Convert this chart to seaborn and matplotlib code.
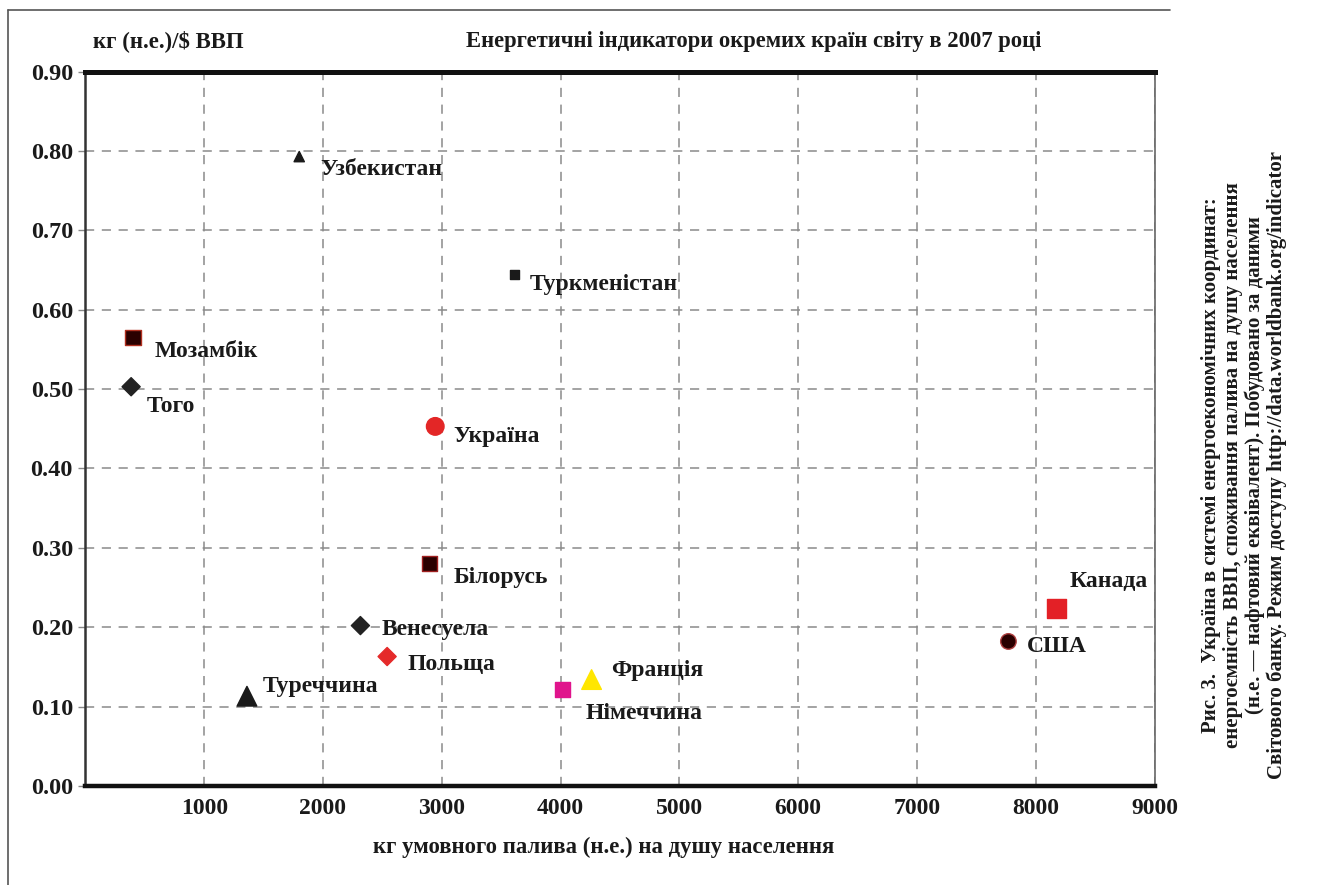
import pandas as pd
import seaborn as sns
import matplotlib.pyplot as plt
from matplotlib.lines import Line2D

# дані
countries = ['Узбекистан', 'Туркменістан', 'Мозамбік', 'Того', 'Україна', 'Білорусь',
             'Венесуела', 'Польща', 'Туреччина', 'Німеччина', 'Франція', 'Канада', 'США']
energy_per_capita = [1800, 3615, 400, 385, 2945, 2895, 2315, 2540, 1360, 4017, 4261, 8173, 7770]
energy_intensity = [0.793, 0.645, 0.565, 0.503, 0.453, 0.280, 0.202, 0.163, 0.113, 0.121, 0.134, 0.224, 0.182]
xticks = [1000, 2000, 3000, 4000, 5000, 6000, 7000, 8000, 9000]
yticks = [0.0, 0.1, 0.2, 0.3, 0.4, 0.5, 0.6, 0.7, 0.8, 0.9]

colors = {'Узбекистан': '#1a1a1a', 'Туркменістан': '#1a1a1a', 'Мозамбік': '#2a0000',
          'Того': '#222222', 'Україна': '#e32626', 'Білорусь': '#2a0000',
          'Венесуела': '#222222', 'Польща': '#e52a2a', 'Туреччина': '#1a1a1a',
          'Німеччина': '#e0148c', 'Франція': '#ffe600', 'Канада': '#e32026', 'США': '#2a0000'}
markers = {'Узбекистан': '^', 'Туркменістан': 's', 'Мозамбік': 's', 'Того': 'D',
           'Україна': 'o', 'Білорусь': 's', 'Венесуела': 'D', 'Польща': 'D',
           'Туреччина': '^', 'Німеччина': 's', 'Франція': '^', 'Канада': 's', 'США': 'o'}
sizes = {'Узбекистан': 55, 'Туркменістан': 42, 'Мозамбік': 120, 'Того': 85,
         'Україна': 160, 'Білорусь': 115, 'Венесуела': 85, 'Польща': 85,
         'Туреччина': 200, 'Німеччина': 115, 'Франція': 200, 'Канада': 190, 'США': 125}
edges = ['#1a1a1a', '#1a1a1a', '#b03020', '#222222', '#e32626', '#a02020',
         '#222222', '#e52a2a', '#1a1a1a', '#e0148c', '#ffe600', '#e32026', '#b04040']
# зміщення підписів (пікселі)
offsets = [(21, -13), (15, -10), (22, -14), (16, -20), (18, -10), (24, -14),
           (21, -4), (20, -8), (16, 10), (23, -24), (20, 9), (13, 27), (18, -5)]

df = pd.DataFrame({'country': countries, 'x': energy_per_capita, 'y': energy_intensity})

sns.set_theme(style='white')
plt.rcParams['font.family'] = ['Liberation Serif', 'DejaVu Serif']
plt.rcParams['font.weight'] = 'bold'

fig = plt.figure(figsize=(13.24, 8.85), dpi=100)
ax = fig.add_axes([0.0645, 0.112, 0.8075, 0.807])

sns.scatterplot(data=df, x='x', y='y', hue='country', style='country', size='country',
                palette=colors, markers=markers, sizes=sizes, edgecolor=edges,
                linewidth=1, legend=False, ax=ax, zorder=3)

for name, x, y, (dx, dy) in zip(countries, energy_per_capita, energy_intensity, offsets):
    ax.annotate(name, (x, y), xytext=(dx * 0.72, dy * 0.72), textcoords='offset points',
                ha='left', va='center', fontsize=17, fontweight='bold', color='#1a1a1a')

ax.set_xlim(0, 9000)
ax.set_ylim(0, 0.9)
ax.set_xticks(xticks)
ax.set_yticks(yticks)
ax.set_yticklabels([f'{v:.2f}' for v in yticks])
ax.tick_params(axis='x', length=0, pad=9, labelsize=17, labelcolor='#1a1a1a')
ax.tick_params(axis='y', length=5, width=1, color='#888888', pad=4, labelsize=17.5,
               labelcolor='#1a1a1a', left=True)
for lbl in ax.get_xticklabels() + ax.get_yticklabels():
    lbl.set_fontweight('bold')
ax.set_xlabel('')
ax.set_ylabel('')

ax.grid(True, color='#8a8a8a', linestyle=(0, (6, 5)), linewidth=1.1)
ax.set_axisbelow(True)

ax.spines['top'].set_linewidth(3.6)
ax.spines['top'].set_color('#111111')
ax.spines['bottom'].set_linewidth(3.2)
ax.spines['bottom'].set_color('#111111')
ax.spines['left'].set_linewidth(1.8)
ax.spines['left'].set_color('#333333')
ax.spines['right'].set_linewidth(1.2)
ax.spines['right'].set_color('#666666')

fig.text(93 / 1324, 1 - 41 / 885, 'кг (н.е.)/$ ВВП', ha='left', va='center',
         fontsize=16.5, fontweight='bold', color='#1a1a1a')
fig.text(466 / 1324, 1 - 41 / 885, 'Енергетичні індикатори окремих країн світу в 2007 році',
         ha='left', va='center', fontsize=16.3, fontweight='bold', color='#1a1a1a')
fig.text(604 / 1324, 1 - 847 / 885, 'кг умовного палива (н.е.) на душу населення',
         ha='center', va='center', fontsize=16.4, fontweight='bold', color='#1a1a1a')

caption = ('Рис. 3.  Україна в системі енергоекономічних координат:\n'
           'енергоємність ВВП, споживання палива на душу населення\n'
           '(н.е. — нафтовий еквівалент). Побудовано за даними\n'
           'Світового банку. Режим доступу http://data.worldbank.org/indicator')
fig.text(1244 / 1324, 1 - 465 / 885, caption, rotation=90, ha='center', va='center',
         multialignment='center', fontsize=15, fontweight='bold', color='#1a1a1a',
         linespacing=1.12)

# рамка
fig.add_artist(Line2D([8 / 1324, 8 / 1324], [0, 1 - 10 / 885], color='#555555', lw=1.2))
fig.add_artist(Line2D([8 / 1324, 1170 / 1324], [1 - 10 / 885, 1 - 10 / 885], color='#555555', lw=1.2))

plt.savefig('out.png', dpi=100)
